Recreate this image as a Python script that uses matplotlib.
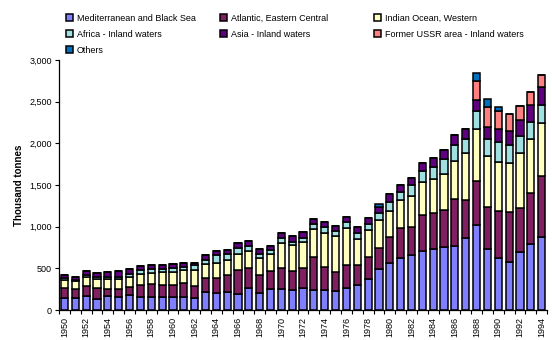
import matplotlib
matplotlib.use("Agg")
import matplotlib.pyplot as plt
import numpy as np
from matplotlib.ticker import FuncFormatter

years = list(range(1950, 1995))

mediterranean = [145, 150, 165, 135, 165, 155, 178, 160, 160, 160, 155, 160, 140, 220, 200, 215, 190, 265, 210, 248,
                 248, 240, 260, 240, 240, 228, 268, 305, 370, 490, 560, 625, 655, 710, 730, 760, 770, 860, 1020, 730,
                 620, 575, 695, 790, 875]
atlantic = [125, 105, 125, 125, 90, 95, 100, 145, 155, 145, 150, 165, 150, 160, 180, 200, 290, 245, 205, 225,
            255, 230, 240, 400, 280, 225, 275, 235, 270, 250, 315, 365, 345, 430, 435, 440, 565, 460, 530, 500,
            565, 595, 530, 610, 730]
indian = [85, 90, 105, 115, 115, 120, 120, 130, 130, 150, 150, 150, 190, 170, 180, 185, 190, 195, 215, 200,
          305, 310, 315, 330, 410, 430, 445, 315, 320, 335, 315, 325, 370, 400, 405, 430, 455, 560, 625, 615,
          590, 590, 660, 650, 640]
africa = [25, 20, 30, 25, 30, 30, 30, 45, 45, 35, 55, 40, 60, 55, 95, 70, 70, 60, 45, 45,
          55, 40, 55, 65, 65, 70, 70, 70, 70, 90, 100, 100, 130, 130, 150, 180, 185, 170, 215, 210,
          235, 215, 200, 210, 210]
asia = [35, 35, 45, 50, 55, 65, 60, 50, 50, 45, 40, 55, 30, 50, 50, 50, 60, 60, 55, 55,
        65, 65, 70, 55, 60, 55, 60, 70, 70, 70, 100, 80, 80, 95, 100, 110, 120, 125, 125, 135,
        160, 170, 190, 200, 220]
ussr = [0] * 38 + [230, 245, 220, 210, 175, 155, 140]
others = [0] * 29 + [40] + [0] * 8 + [100, 90, 50, 0, 0, 0, 0]

series = [
    ("Mediterranean and Black Sea", mediterranean, "#8080FF"),
    ("Atlantic, Eastern Central", atlantic, "#802060"),
    ("Indian Ocean, Western", indian, "#FFFFC0"),
    ("Africa - Inland waters", africa, "#A0E0E0"),
    ("Asia - Inland waters", asia, "#600080"),
    ("Former USSR area - Inland waters", ussr, "#FF8080"),
    ("Others", others, "#0070C0"),
]

plt.rcParams['font.family'] = ['Liberation Sans', 'DejaVu Sans']
fig = plt.figure(figsize=(5.52, 3.40), dpi=100)
ax = fig.add_axes([0.107, 0.088, 0.884, 0.736])

x = np.arange(len(years))
bottom = np.zeros(len(years))
handles = {}
for name, vals, col in series:
    v = np.array(vals, dtype=float)
    b = ax.bar(x, v, width=0.66, bottom=bottom, color=col, edgecolor="black", linewidth=1.1, label=name)
    handles[name] = b
    bottom += v

ax.set_xlim(-0.5, len(years) - 0.5)
ax.set_ylim(0, 3000)
ax.set_yticks(np.arange(0, 3001, 500))
ax.yaxis.set_major_formatter(FuncFormatter(lambda v, p: f"{int(v):,}"))
ax.tick_params(axis="y", labelsize=6.5, length=3, width=0.8, direction="out", pad=2)

ax.set_xticks(x[::2])
ax.set_xticklabels([str(y) for y in years[::2]], rotation=90, fontsize=6.5)
ax.set_xticks(np.arange(-0.5, len(years), 1), minor=True)
ax.tick_params(axis="x", which="major", length=0, pad=5)
ax.tick_params(axis="x", which="minor", length=3, width=0.8, direction="out")

for s in ["top", "right"]:
    ax.spines[s].set_visible(False)
for s in ["left", "bottom"]:
    ax.spines[s].set_linewidth(0.9)

ax.set_ylabel("Thousand tonnes", fontsize=7, fontweight="bold", labelpad=4)

columns = [
    (["Mediterranean and Black Sea", "Africa - Inland waters", "Others"], 66),
    (["Atlantic, Eastern Central", "Asia - Inland waters"], 220),
    (["Indian Ocean, Western", "Former USSR area - Inland waters"], 374),
]
for names, px in columns:
    fig.legend([handles[n] for n in names], names, loc="upper left",
               bbox_to_anchor=(px / 552, 1 - 14 / 340), frameon=False, fontsize=6.5,
               handlelength=0.8, handleheight=0.8, handletextpad=0.4,
               labelspacing=0.78, borderpad=0, borderaxespad=0)

fig.savefig("out.png", dpi=100)
